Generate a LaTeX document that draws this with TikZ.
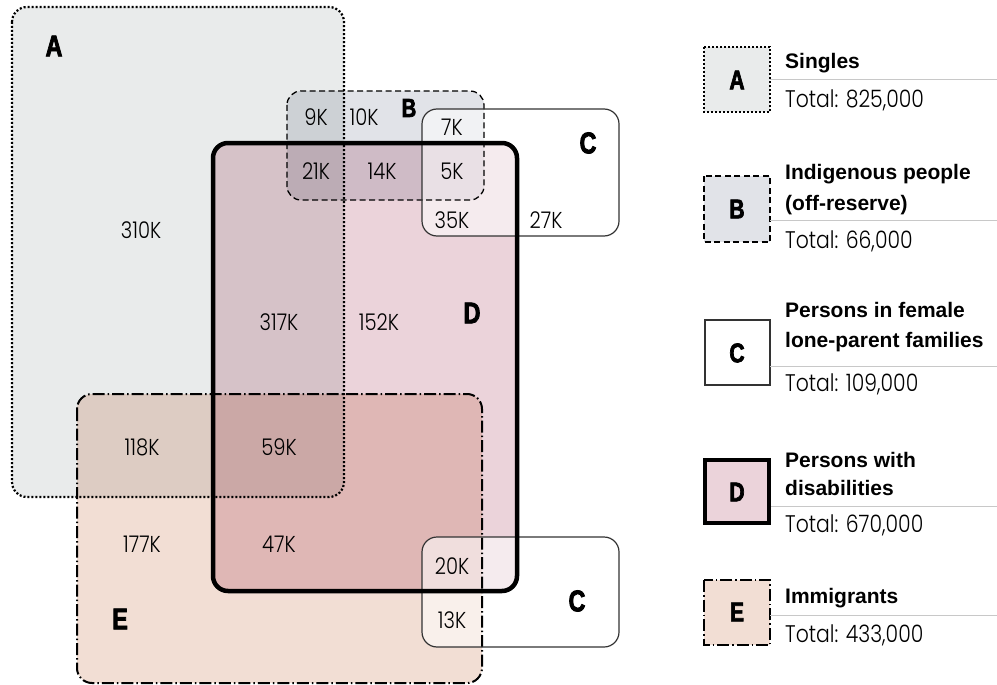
\documentclass[tikz,border=0pt]{standalone}
\usepackage{fontspec}
\setmainfont{Poppins}[UprightFont={* Light}, FakeStretch=0.85]
\newfontfamily\hdfont{Liberation Sans}
\newfontfamily\lblfont{Liberation Sans}[FakeStretch=0.78, BoldFeatures={FakeBold=2.5}]
\definecolor{cA}{HTML}{E9EBEB}
\definecolor{cB}{HTML}{E1E3E8}
\definecolor{cD}{HTML}{EBD3DA}
\definecolor{cE}{HTML}{F2DED4}
\definecolor{cC}{HTML}{333333}
\definecolor{rule}{HTML}{C8C8C8}
\tikzset{
  setA/.style={line width=2.2pt, dash pattern=on 2pt off 2pt},
  setB/.style={line width=1.3pt, dash pattern=on 6pt off 3.5pt},
  setC/.style={line width=1.2pt, draw=cC},
  setD/.style={line width=4.5pt},
  setE/.style={line width=2pt, dash pattern=on 12pt off 3pt on 1.5pt off 3pt},
  num/.style={font=\fontsize{23}{25}\selectfont, inner sep=0pt},
  biglbl/.style={font=\lblfont\bfseries\fontsize{30}{30}\selectfont, inner sep=0pt},
  leglbl/.style={font=\lblfont\bfseries\fontsize{27}{27}\selectfont, inner sep=0pt},
  head/.style={font=\hdfont\bfseries\fontsize{21}{25}\selectfont, inner sep=0pt, anchor=base west},
  total/.style={font=\fontsize{24}{26}\selectfont, inner sep=0pt, anchor=base west},
  ruleline/.style={draw=rule, line width=1pt}
}
\begin{document}
\begin{tikzpicture}[x=1pt,y=-1pt]
\useasboundingbox (0,0) rectangle (997,685);
% fills
\path[fill=cA, blend mode=multiply, rounded corners=15pt] (12,7) rectangle (344,497);
\path[fill=cE, blend mode=multiply, rounded corners=15pt] (77,394) rectangle (482,683);
\path[fill=cD, blend mode=multiply, rounded corners=15pt] (213,143) rectangle (517,591);
\path[fill=cB, blend mode=multiply, rounded corners=14pt] (287,91) rectangle (484,200);
\path[fill=white, fill opacity=0.55, rounded corners=15pt] (422,109) rectangle (619,236);
\path[fill=white, fill opacity=0.55, rounded corners=15pt] (422,537) rectangle (619,647);
% borders
\draw[setA, rounded corners=15pt] (12,7) rectangle (344,497);
\draw[setE, rounded corners=15pt] (77,394) rectangle (482,683);
\draw[setB, rounded corners=14pt] (287,91) rectangle (484,200);
\draw[setC, rounded corners=15pt] (422,109) rectangle (619,236);
\draw[setC, rounded corners=15pt] (422,537) rectangle (619,647);
\draw[setD, rounded corners=15pt] (213,143) rectangle (517,591);
% set labels
\node[biglbl] (lA) at (54,46) {A};
\node[biglbl, font=\lblfont\bfseries\fontsize{26}{26}\selectfont] (lB) at (409,108) {B};
\node[biglbl] (lC1) at (588,143) {C};
\node[biglbl] (lD) at (472,313) {D};
\node[biglbl] (lE) at (120,619) {E};
\node[biglbl] (lC2) at (577,601) {C};
% numbers
\node[num] (n310) at (141,230) {310K};
\node[num] (n9) at (316,117) {9K};
\node[num] (n10) at (364,117) {10K};
\node[num] (n7) at (452,127) {7K};
\node[num] (n21) at (316,171) {21K};
\node[num] (n14) at (382,171) {14K};
\node[num] (n5) at (452,171) {5K};
\node[num] (n35) at (452,220) {35K};
\node[num] (n27) at (546,220) {27K};
\node[num] (n317) at (279,322) {317K};
\node[num] (n152) at (379,322) {152K};
\node[num] (n118) at (142,447) {118K};
\node[num] (n59) at (279,447) {59K};
\node[num] (n177) at (142,544) {177K};
\node[num] (n47) at (279,544) {47K};
\node[num] (n20) at (452,566) {20K};
\node[num] (n13) at (452,620) {13K};
% legend
\path[fill=cA] (704,47) rectangle (770,112);
\draw[setA] (704,47) rectangle (770,112);
\node[leglbl] (kA) at (737,80) {A};
\draw[ruleline] (770,80) -- (997,80);
\node[head] (hA) at (785,69) {Singles};
\node[total] (tA) at (785,107) {Total: 825,000};

\path[fill=cB] (704,176) rectangle (770,242);
\draw[setB] (704,176) rectangle (770,242);
\node[leglbl] (kB) at (737,209) {B};
\draw[ruleline] (770,220) -- (997,220);
\node[head] (hB1) at (785,179) {Indigenous people};
\node[head] (hB2) at (785,210) {(off-reserve)};
\node[total] (tB) at (785,248) {Total: 66,000};

\path[fill=white] (705,320) rectangle (770,385);
\draw[setC] (705,320) rectangle (770,385);
\node[leglbl] (kC) at (737,353) {C};
\draw[ruleline] (770,366) -- (997,366);
\node[head] (hC1) at (785,317) {Persons in female};
\node[head] (hC2) at (785,347) {lone-parent families};
\node[total] (tC) at (785,391) {Total: 109,000};

\path[fill=cD] (705,460) rectangle (769,523);
\draw[setD] (705,460) rectangle (769,523);
\node[leglbl] (kD) at (737,492) {D};
\draw[ruleline] (771,506) -- (997,506);
\node[head] (hD1) at (785,467) {Persons with};
\node[head] (hD2) at (785,495) {disabilities};
\node[total] (tD) at (785,532) {Total: 670,000};

\path[fill=cE] (704,580) rectangle (770,645);
\draw[setE] (704,580) rectangle (770,645);
\node[leglbl] (kE) at (737,612) {E};
\draw[ruleline] (770,615) -- (997,615);
\node[head] (hE) at (785,603) {Immigrants};
\node[total] (tE) at (785,642) {Total: 433,000};
\end{tikzpicture}
\end{document}
